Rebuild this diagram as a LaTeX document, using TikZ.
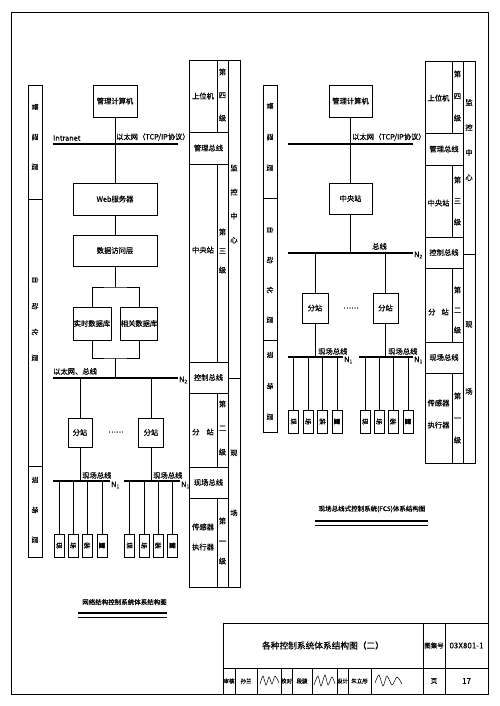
\documentclass[tikz,border=0pt]{standalone}
\usepackage{fontspec}
\setmainfont{Noto Sans CJK SC}[FakeBold=0.4]
\tikzset{
  box/.style={draw,line width=.7pt,inner sep=0pt,font=\fontsize{7.3}{8}\selectfont},
  dev/.style={draw,line width=.7pt,minimum width=10pt,minimum height=23pt,inner sep=0pt,font=\fontsize{6.5}{7}\selectfont},
  bus/.style={line width=1.8pt},
  wire/.style={line width=.7pt},
  lbl/.style={inner sep=0pt,font=\fontsize{7.3}{8}\selectfont},
  vcol/.style={inner sep=0pt,align=center,font=\fontsize{7.3}{#1}\selectfont},
  strip/.style={rotate=-90,inner sep=0pt,font=\fontsize{7}{8}\selectfont},
  frame/.style={line width=1pt},
  sig/.style={line width=.5pt}
}
\begin{document}
\begin{tikzpicture}[x=1pt,y=-1pt]
\useasboundingbox (0,0) rectangle (499,706);
\draw[frame] (11,13) -- (488,13) -- (488,694) -- (11,694) -- cycle;

% left picture: layers strip
\draw[wire] (28,85) rectangle (42,557);
\draw[wire] (28,199) -- (42,199);
\draw[wire] (28,466) -- (42,466);
\node[strip] (layAL) at (35,137) {管\hspace{23pt}理\hspace{23pt}层};
\node[strip] (layBL) at (35,319) {自\hspace{19pt}动\hspace{19pt}化\hspace{19pt}层};
\node[strip] (layCL) at (35,510) {现\hspace{23pt}场\hspace{23pt}层};

% left picture: network
\node[box,minimum width=44pt,minimum height=32pt] (pcL) at (115,101) {管理计算机};
\coordinate (ethLw) at (53,144);
\coordinate (ethLe) at (178,144);
\draw[bus] (ethLw) -- (ethLe);
\node[lbl,anchor=south west] (intra) at (53,141) {Intranet};
\node[lbl,anchor=south west] (tcpL) at (116,141) {以太网（TCP/IP协议）};
\node[box,minimum width=84pt,minimum height=32pt] (web) at (115,199) {Web服务器};
\node[box,minimum width=84pt,minimum height=31pt] (dal) at (115,250.5) {数据访问层};
\node[box,minimum width=38pt,minimum height=33pt] (rtdb) at (92,323.5) {实时数据库};
\node[box,minimum width=36pt,minimum height=33pt] (rldb) at (139,323.5) {相关数据库};
\coordinate (dbT) at (115,287);
\coordinate (dbB) at (115,358);
\draw[wire] (pcL) -- (web);
\draw[wire] (web) -- (dal);
\draw[wire] (dal) -- (dbT);
\draw[wire] (rtdb.north) |- (dbT) -| (rldb.north);
\draw[wire] (rtdb.south) |- (dbB) -| (rldb.south);
\coordinate (n2Lw) at (53,378);
\coordinate (n2Le) at (178,378);
\draw[bus] (n2Lw) -- (n2Le);
\draw[wire] (dbB) -- (dbB |- n2Lw);
\node[lbl,anchor=south west] (busL) at (53,375) {以太网、总线};
\node[lbl,anchor=west] (n2L) at (179,380) {N\textsubscript{2}};

\node[box,minimum width=24pt,minimum height=29pt] (subLa) at (80,432.5) {分站};
\node[box,minimum width=25pt,minimum height=29pt] (subLb) at (151,432.5) {分站};
\node[lbl] (dotsL) at (116,432) {……};
\draw[wire] (subLa) -- (subLa |- n2Lw);
\draw[wire] (subLb) -- (subLb |- n2Lw);

\coordinate (fbLaW) at (53,481);
\coordinate (fbLaE) at (110,481);
\coordinate (fbLbW) at (124,481);
\coordinate (fbLbE) at (180,481);
\draw[bus] (fbLaW) -- (fbLaE);
\draw[bus] (fbLbW) -- (fbLbE);
\draw[wire] (subLa) -- (subLa |- fbLaW);
\draw[wire] (subLb) -- (subLb |- fbLbW);
\node[lbl,anchor=south west] (fbLa) at (82,479) {现场总线};
\node[lbl,anchor=south west] (fbLb) at (153,479) {现场总线};
\node[lbl,anchor=west] (n1La) at (111,485) {N\textsubscript{1}};
\node[lbl,anchor=west] (n1Lb) at (181,485) {N\textsubscript{1}};

\foreach \x/\c [count=\i] in {59/现,73/场,87/装,102/置}{
  \node[dev] (devLa\i) at (\x,545.5) {\rotatebox{-90}{\c}};
  \draw[wire] (devLa\i.north) -- (devLa\i.north |- fbLaW);
}
\foreach \x/\c [count=\i] in {129.5/现,144/场,158/装,172.5/置}{
  \node[dev] (devLb\i) at (\x,545.5) {\rotatebox{-90}{\c}};
  \draw[wire] (devLb\i.north) -- (devLb\i.north |- fbLbW);
}

\node[inner sep=0pt,font=\fontsize{6.5}{7}\selectfont] (capL) at (124.5,602) {网络结构控制系统体系结构图};
\draw[line width=1.3pt] (78,613) -- (167,613);
\draw[line width=.4pt] (78,617) -- (167,617);

% left picture: level column
\draw[wire] (189,60) rectangle (240,587);
\draw[wire] (228,60) -- (228,587);
\foreach \y in {132,164,362,393,467,498}
\draw[wire] (189,\y) -- (228,\y);
\foreach \a/\b in {60/132,164/362,393/467,498/587}
\draw[wire] (217,\a) -- (217,\b);
\draw[wire] (228,378) -- (240,378);
\node[lbl] (pc4L) at (203,96) {上位机};
\node[vcol=23] (lv4L) at (222.5,95) {第\\四\\级};
\node[lbl] (mbusL) at (208.5,148) {管理总线};
\node[lbl] (ctrL) at (203,250) {中央站};
\node[vcol=19] (lv3L) at (222.5,251) {第\\三\\级};
\node[vcol=24] (monL) at (234,204) {监\\控\\中\\心};
\node[lbl] (cbusL) at (208.5,377.5) {控制总线};
\node[lbl] (stL) at (203,432) {分\hspace{7pt}站};
\node[vcol=24] (lv2L) at (222.5,428) {第\\二\\级};
\node[lbl] (fbusL) at (208.5,482.5) {现场总线};
\node[vcol=20] (senL) at (203,537) {传感器\\执行器};
\node[vcol=20] (lv1L) at (222.5,541) {第\\一\\级};
\node[vcol=60] (fldL) at (234,483) {现\\场};

% right picture: layers strip
\draw[wire] (263,85) rectangle (277,432);
\draw[wire] (263,198) -- (277,198);
\draw[wire] (263,340) -- (277,340);
\node[strip] (layAR) at (270,137) {管\hspace{24pt}理\hspace{24pt}层};
\node[strip] (layBR) at (270,275) {自\hspace{23pt}动\hspace{23pt}化\hspace{23pt}层};
\node[strip] (layCR) at (270,386) {现\hspace{24pt}场\hspace{24pt}层};

% right picture: network
\node[box,minimum width=43pt,minimum height=32pt] (pcR) at (350.5,101) {管理计算机};
\coordinate (ethRw) at (288,144);
\coordinate (ethRe) at (413,144);
\draw[bus] (ethRw) -- (ethRe);
\node[lbl,anchor=south west] (tcpR) at (352,141) {以太网（TCP/IP协议）};
\node[box,minimum width=43pt,minimum height=31pt] (ctr) at (350.5,198.5) {中央站};
\draw[wire] (pcR) -- (ctr);
\coordinate (n2Rw) at (288,253);
\coordinate (n2Re) at (413,253);
\draw[bus] (n2Rw) -- (n2Re);
\draw[wire] (ctr) -- (ctr |- n2Rw);
\node[lbl,anchor=south west] (busR) at (372,250) {总线};
\node[lbl,anchor=west] (n2R) at (414,255) {N\textsubscript{2}};

\node[box,minimum width=26pt,minimum height=30pt] (subRa) at (315,308) {分站};
\node[box,minimum width=25pt,minimum height=30pt] (subRb) at (385.5,308) {分站};
\node[lbl] (dotsR) at (351,308) {……};
\draw[wire] (subRa) -- (subRa |- n2Rw);
\draw[wire] (subRb) -- (subRb |- n2Rw);

\coordinate (fbRaW) at (288,357);
\coordinate (fbRaE) at (343,357);
\coordinate (fbRbW) at (359,357);
\coordinate (fbRbE) at (413,357);
\draw[bus] (fbRaW) -- (fbRaE);
\draw[bus] (fbRbW) -- (fbRbE);
\draw[wire] (subRa) -- (subRa |- fbRaW);
\draw[wire] (subRb) -- (subRb |- fbRbW);
\node[lbl,anchor=south west] (fbRa) at (318,355) {现场总线};
\node[lbl,anchor=south west] (fbRb) at (388,355) {现场总线};
\node[lbl,anchor=west] (n1Ra) at (344,360) {N\textsubscript{1}};
\node[lbl,anchor=west] (n1Rb) at (414,360) {N\textsubscript{1}};

\foreach \x/\c [count=\i] in {293.5/现,308/场,322.5/装,337/置}{
  \node[dev] (devRa\i) at (\x,421.5) {\rotatebox{-90}{\c}};
  \draw[wire] (devRa\i.north) -- (devRa\i.north |- fbRaW);
}
\foreach \x/\c [count=\i] in {365/现,379/场,393/装,408/置}{
  \node[dev] (devRb\i) at (\x,421.5) {\rotatebox{-90}{\c}};
  \draw[wire] (devRb\i.north) -- (devRb\i.north |- fbRbW);
}

\node[inner sep=0pt,font=\fontsize{6.5}{7}\selectfont] (capR) at (372,509) {现场总线式控制系统(FCS)体系结构图};
\draw[line width=1.3pt] (315,521) -- (428,521);
\draw[line width=.4pt] (315,525) -- (428,525);

% right picture: level column
\draw[wire] (425,61) rectangle (475,463);
\draw[wire] (463,61) -- (463,463);
\foreach \y in {133,165,237,268,342,373}
\draw[wire] (425,\y) -- (463,\y);
\foreach \a/\b in {61/133,165/237,268/342,373/463}
\draw[wire] (452,\a) -- (452,\b);
\draw[wire] (463,254) -- (475,254);
\node[lbl] (pc4R) at (438.5,98) {上位机};
\node[vcol=22] (lv4R) at (457.5,96) {第\\四\\级};
\node[lbl] (mbusR) at (444,149) {管理总线};
\node[lbl] (ctrR) at (438.5,203) {中央站};
\node[vcol=21] (lv3R) at (457.5,201) {第\\三\\级};
\node[vcol=25] (monR) at (469,140) {监\\控\\中\\心};
\node[lbl] (cbusR) at (444,252.5) {控制总线};
\node[lbl] (stR) at (438.5,312) {分\hspace{6pt}站};
\node[vcol=20] (lv2R) at (457.5,310) {第\\二\\级};
\node[lbl] (fbusR) at (444,357.5) {现场总线};
\node[vcol=22] (senR) at (438.5,414) {传感器\\执行器};
\node[vcol=22] (lv1R) at (457.5,418) {第\\一\\级};
\node[vcol=67] (fldR) at (469,358) {现\\场};

% title block
\draw[frame] (223,623) rectangle (488,694);
\draw[wire] (223,668) -- (488,668);
\draw[wire] (423,623) -- (423,694);
\draw[wire] (445,623) -- (445,694);
\foreach \x in {235,257,281,292,312,337,348,371}
\draw[wire] (\x,668) -- (\x,694);
\node[inner sep=0pt,font=\fontsize{8.7}{10}\selectfont] (title) at (323,645.5) {各种控制系统体系结构图（二）};
\node[inner sep=0pt,font=\fontsize{6.5}{7}\selectfont] (setno) at (434,645.5) {图集号};
\node[inner sep=0pt,font=\fontsize{8}{9}\selectfont] (setid) at (466.5,645.5) {03X801-1};
\node[inner sep=0pt,font=\fontsize{5.5}{6}\selectfont] (chk) at (229,681) {审核};
\node[inner sep=0pt,font=\fontsize{5.5}{6}\selectfont] (chkN) at (246,681) {孙兰};
\node[inner sep=0pt,font=\fontsize{5.5}{6}\selectfont] (rev) at (286.5,681) {校对};
\node[inner sep=0pt,font=\fontsize{5.5}{6}\selectfont] (revN) at (302,681) {段骏};
\node[inner sep=0pt,font=\fontsize{5.5}{6}\selectfont] (des) at (342.5,681) {设计};
\node[inner sep=0pt,font=\fontsize{5.5}{6}\selectfont] (desN) at (359.5,681) {朱立彤};
\node[inner sep=0pt,font=\fontsize{6.5}{7}\selectfont] (pg) at (434,681) {页};
\node[inner sep=0pt,font=\fontsize{8}{9}\selectfont] (pgN) at (466.5,681) {17};
\draw[sig] plot[smooth] coordinates {(260,684) (263,676) (266,685) (269,677) (272,684) (275,676) (279,683)};
\draw[sig] plot[smooth] coordinates {(314,685) (318,676) (321,686) (325,675) (328,685) (332,677) (335,684)};
\draw[sig] plot[smooth] coordinates {(375,683) (379,675) (383,686) (387,676) (392,685) (397,677) (402,684)};
\end{tikzpicture}
\end{document}
